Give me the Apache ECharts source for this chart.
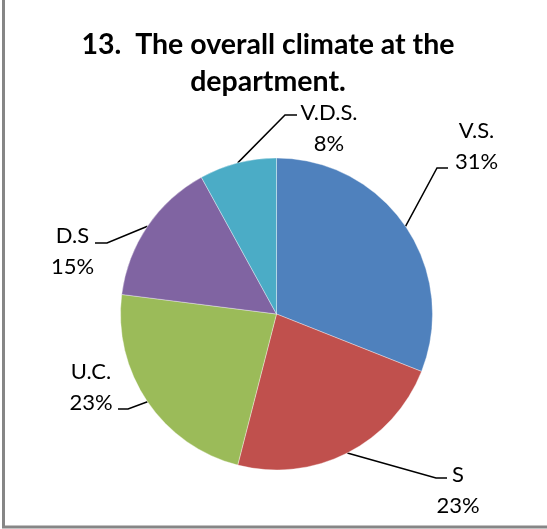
<!DOCTYPE html>
<html>
<head>
<meta charset="utf-8">
<script src="https://cdn.jsdelivr.net/npm/echarts@6/dist/echarts.min.js"></script>
<style>
html,body{margin:0;padding:0;background:#fff;}
#chart{width:547px;height:529px;}
</style>
</head>
<body>
<div id="chart"></div>
<script>
const categories = ['V.S.', 'S', 'U.C.', 'D.S', 'V.D.S.'];
const percents = [31, 23, 23, 15, 8];
const colors = ['#4F81BD', '#C0504D', '#9BBB59', '#8064A2', '#4BACC6'];
const titleText = '13.  The overall climate at the\ndepartment.';

// label layout (block centre, and leader end / elbow points)
const labelCenters = [[476.5, 146], [458, 490], [91, 387], [72.5, 251], [329, 128]];
const lineEnds = [[448, 168], [447, 478], [118, 409], [95, 243], [297, 115]];
const elbowDx = [-11, -11, 10, 12, -12];

const FONT = 'Lato';
const chart = echarts.init(document.getElementById('chart'), null, {renderer: 'canvas'});
chart.setOption({
  animation: false,
  backgroundColor: '#fff',
  title: {
    text: titleText,
    left: 263,
    top: 21,
    textAlign: 'center',
    textStyle: {fontFamily: FONT, fontWeight: 'bold', fontSize: 28.5, lineHeight: 37, color: '#000'}
  },
  graphic: [{
    type: 'rect',
    shape: {x: 3.5, y: -10, width: 600, height: 537},
    style: {fill: 'none', stroke: '#868686', lineWidth: 3},
    silent: true
  }],
  series: [{
    type: 'pie',
    center: [276.5, 314],
    radius: 156,
    startAngle: 90,
    clockwise: true,
    data: categories.map((c, i) => ({name: c, value: percents[i], itemStyle: {color: colors[i]}})),
    itemStyle: {borderColor: 'rgba(255,255,255,0.45)', borderWidth: 0.8},
    label: {
      show: true,
      position: 'outside',
      formatter: p => p.name + '\n' + p.value + '%',
      fontFamily: FONT,
      fontSize: 22,
      lineHeight: 31,
      color: '#000',
      align: 'center'
    },
    labelLine: {show: true, length: 10, length2: 10, lineStyle: {color: '#000', width: 1.5}},
    labelLayout: function (params) {
      const i = params.dataIndex;
      const start = params.labelLinePoints[0];
      const end = lineEnds[i];
      const elbow = [end[0] + elbowDx[i], end[1]];
      return {
        x: labelCenters[i][0],
        y: labelCenters[i][1],
        align: 'center',
        verticalAlign: 'middle',
        labelLinePoints: [start, elbow, end]
      };
    },
    emphasis: {disabled: true}
  }]
});
</script>
</body>
</html>
